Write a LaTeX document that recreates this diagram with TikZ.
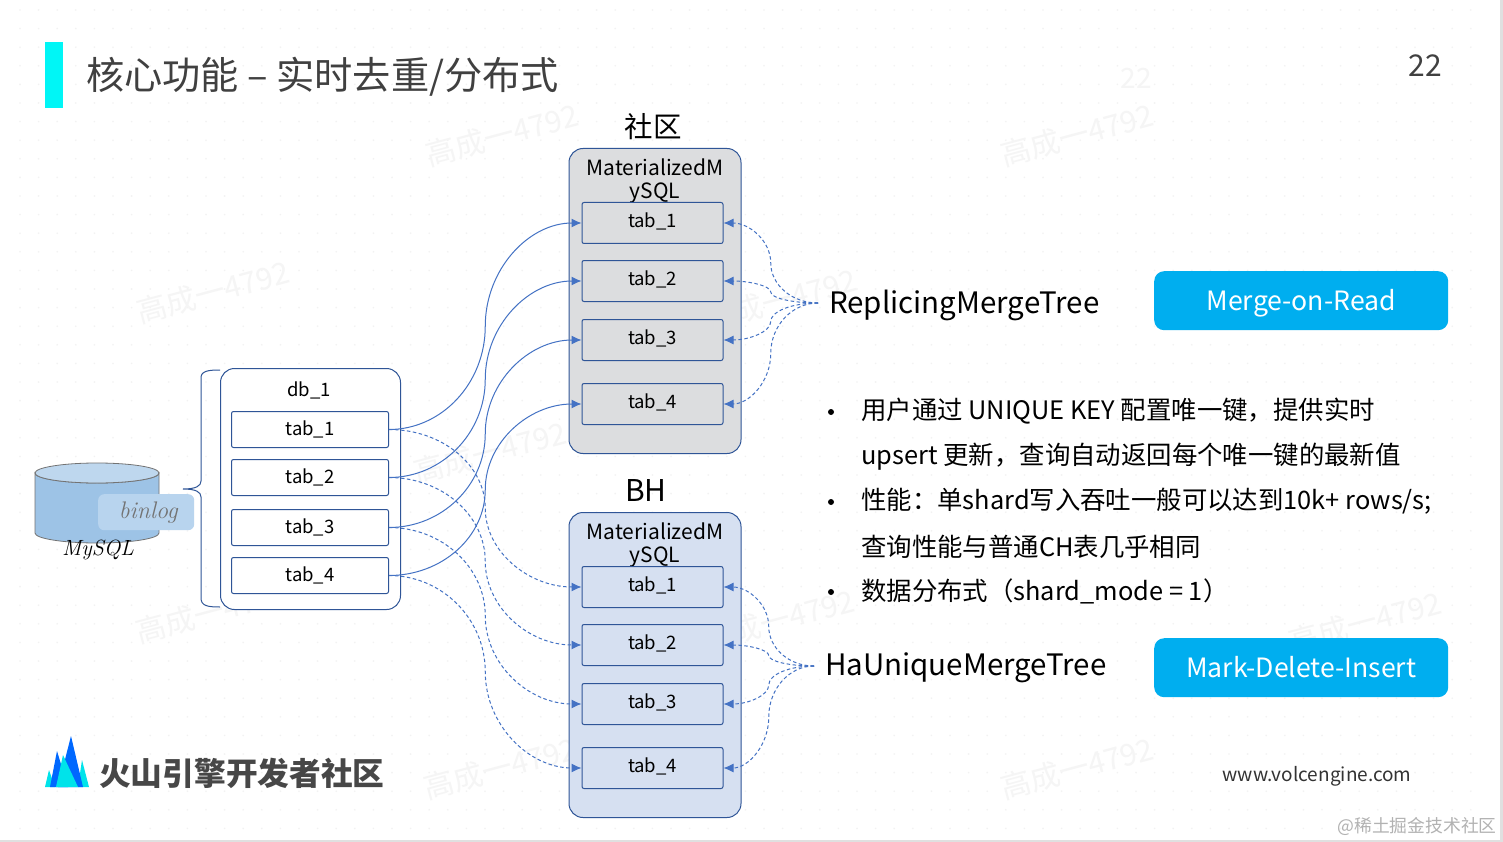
\documentclass[tikz,border=0pt]{standalone}
\usepackage{fontspec}
\setmainfont{Noto Sans CJK SC}
\newfontfamily\lmit{Latin Modern Roman}
\usetikzlibrary{arrows.meta,calc}
\definecolor{linkblue}{HTML}{4472C4}
\definecolor{boxedge}{HTML}{2F5597}
\definecolor{cyanbtn}{HTML}{00AEEF}
\definecolor{barcyan}{HTML}{00F6F6}
\definecolor{logoblue}{HTML}{0068FF}
\definecolor{logocyan}{HTML}{00E3EA}
\tikzset{
  x=1pt,y=-1pt,
  txt/.style={inner sep=0pt,text=black,font=\fontsize{18.5}{24}\selectfont},
  outerbox/.style={draw=boxedge,line width=1pt,rounded corners=14pt,anchor=north west,inner sep=0pt},
  tabbox/.style={draw=boxedge,line width=1pt,rounded corners=2pt,anchor=north west,inner sep=0pt,font=\fontsize{18.5}{24}\selectfont},
  btn/.style={fill=cyanbtn,rounded corners=10pt,anchor=north west,inner sep=0pt,minimum width=294pt,minimum height=59pt,text=white,text height=19pt,text depth=0pt,font=\fontsize{26.6}{32}\selectfont},
  bigtxt/.style={inner sep=0pt,anchor=west,text=black,font=\fontsize{25.4}{30}\selectfont},
  lbltxt/.style={inner sep=0pt,anchor=west,text=black,font=\fontsize{29.5}{34}\selectfont},
  solidlink/.style={draw=linkblue,line width=1pt,-{Latex[length=10pt,width=9pt]}},
  dashlink/.style={draw=linkblue,line width=1pt,dash pattern=on 3.5pt off 2.5pt,-{Latex[length=10pt,width=9pt]}},
  wm/.style={text=black!4,rotate=15,inner sep=0pt,font=\fontsize{30}{34}\selectfont},
}
\newcommand{\scurve}[3]{%
  \coordinate (sa) at (#2);\coordinate (sb) at (#3);
  \coordinate (sm) at ($(sa)!.5!(sb)$);
  \draw[#1] (sa) .. controls ($(sa)!.55!(sa -| sm)$) and ($(sm)!.55!(sa -| sm)$) .. (sm)
     .. controls ($(sm)!.55!(sb -| sm)$) and ($(sb)!.55!(sb -| sm)$) .. (sb);}
\begin{document}
\begin{tikzpicture}
\useasboundingbox (0,0) rectangle (1503,842);
\fill[white] (0,0) rectangle (1503,842);
% dotted slide background
\foreach \i in {0,...,78}{\foreach \j in {0,...,44}{
  \fill[black!5] ({20+18.6*\i},{10+18.6*\j}) circle (.9);}}
% watermarks
\node[wm] (w1) at (502,135) {高成一4792};
\node[wm] (w2) at (1077,135) {高成一4792};
\node[wm] (w3) at (213,292) {高成一4792};
\node[wm] (w4) at (780,300) {高成一4792};
\node[wm] (w5) at (490,452) {高成一4792};
\node[wm] (w6) at (212,612) {高成一4792};
\node[wm] (w7) at (778,620) {高成一4792};
\node[wm] (w8) at (1365,622) {高成一4792};
\node[wm] (w9) at (500,768) {高成一4792};
\node[wm] (w10) at (1077,768) {高成一4792};
\node[text=black!4,inner sep=0pt,font=\fontsize{28}{32}\selectfont] (w11) at (1136,78) {22};
% frame edges
\fill[black!12] (1500,0) rectangle (1503,842);
\fill[black!12] (0,840) rectangle (1503,842);
% title
\fill[barcyan] (45,42) rectangle (63,108);
\node[inner sep=0pt,anchor=west,text=black!75,font=\fontsize{38.2}{44}\selectfont] (title) at (86,77) {核心功能 – 实时去重/分布式};
\node[inner sep=0pt,text=black!75,font=\fontsize{30}{34}\selectfont] (page) at (1425,66) {22};
% MySQL cylinder
\path[fill={rgb,255:red,157;green,195;blue,230},draw=black!55,line width=.8pt]
  (35,473) -- (35,533) arc[start angle=180,end angle=360,x radius=62,y radius=-10] -- (159,473) arc[start angle=0,end angle=180,x radius=62,y radius=10] -- cycle;
\path[fill={rgb,255:red,190;green,215;blue,238},draw=black!55,line width=.8pt] (97,473) ellipse[x radius=62,y radius=10];
\node[fill={rgb,255:red,184;green,212;blue,238},rounded corners=6pt,anchor=north west,inner sep=0pt,minimum width=96pt,minimum height=36pt,text=black!55,font=\lmit\itshape\fontsize{24}{28}\selectfont] (binlog) at (98,494) {\hspace*{4pt}binlog};
\node[inner sep=0pt,text=black,font=\lmit\itshape\fontsize{22}{26}\selectfont] (mysql) at (98,550) {MySQL};
% brace
\draw[boxedge,line width=1pt] (220,370) .. controls (208,370) and (201,371) .. (201,378) -- (201,481) .. controls (201,486) and (196,489) .. (183,489)
  .. controls (196,489) and (201,492) .. (201,497) -- (201,598) .. controls (201,606) and (208,607) .. (220,607);
% db box
\node[outerbox,fill=white,minimum width=180pt,minimum height=241pt] (db) at (220,368) {};
\node[txt] (dbl) at (309,390) {db\_1};
\foreach \n/\y in {1/411,2/459,3/509,4/557}{
  \node[tabbox,fill=white,minimum width=157pt,minimum height=36pt] (d\n) at (231,\y) {tab\_\n};}
% community box
\node[inner sep=0pt,text=black,font=\fontsize{28.5}{34}\selectfont] (c) at (653,127) {社区};
\node[outerbox,fill={rgb,255:red,220;green,221;blue,223},minimum width=172pt,minimum height=305pt] (cb) at (568.5,148) {};
\node[txt,align=center,font=\fontsize{21}{23.5}\selectfont] (cl) at (655,181) {MaterializedM\\ySQL};
\foreach \n/\y in {1/202,2/260,3/319,4/383}{
  \node[tabbox,fill={rgb,255:red,220;green,221;blue,223},minimum width=141pt,minimum height=41pt] (c\n) at (581.5,\y) {\raisebox{6pt}{tab\_\n}};}
% BH box
\node[inner sep=0pt,text=black,font=\fontsize{30}{34}\selectfont] (bhl) at (646,491) {BH};
\node[outerbox,fill={rgb,255:red,214;green,224;blue,241},minimum width=172pt,minimum height=305pt] (bb) at (568.5,512) {};
\node[txt,align=center,font=\fontsize{21}{23.5}\selectfont] (bl) at (655,545) {MaterializedM\\ySQL};
\foreach \n/\y in {1/566,2/624,3/683,4/747}{
  \node[tabbox,fill={rgb,255:red,214;green,224;blue,241},minimum width=141pt,minimum height=41pt] (b\n) at (581.5,\y) {\raisebox{6pt}{tab\_\n}};}
% labels
\node[lbltxt] (rmt) at (829,305) {ReplicingMergeTree};
\node[lbltxt] (hmt) at (825,668) {HaUniqueMergeTree};
\coordinate (rp) at (818,303);
\coordinate (hp) at (814,666);
% links
\foreach \n in {1,2,3,4}{
  \scurve{solidlink}{d\n.east}{c\n.west}
  \scurve{dashlink}{d\n.east}{b\n.west}
  \scurve{dashlink}{rp}{c\n.east}
  \scurve{dashlink}{hp}{b\n.east}
}
% buttons
\node[btn] (mor) at (1154,271) {Merge-on-Read};
\node[btn] (mdi) at (1154,638) {Mark-Delete-Insert};
\fill[black] (831,412) circle (3);
\fill[black] (831,502) circle (3);
\fill[black] (831,592) circle (3);
% bullets
\node[bigtxt] (t1) at (861,411.5) {用户通过 UNIQUE KEY 配置唯一键，提供实时};
\node[bigtxt] (t2) at (861,456.5) {upsert 更新，查询自动返回每个唯一键的最新值};
\node[bigtxt] (t3) at (861,501.5) {性能：单shard写入吞吐一般可以达到10k+ rows/s;};
\node[bigtxt] (t4) at (861,546.5) {查询性能与普通CH表几乎相同};
\node[bigtxt] (t5) at (861,591.5) {数据分布式（shard\_mode = 1）};
% logo
\fill[logocyan] (45,787) -- (49,770) -- (55,787) -- cycle;
\fill[logocyan] (78,787) -- (82,760) -- (89,787) -- cycle;
\fill[logoblue] (50,787) -- (57,751) -- (68,787) -- cycle;
\fill[logoblue] (58,787) -- (71,736) -- (83,787) -- cycle;
\fill[logocyan] (56,787) -- (63,755) -- (78,787) -- cycle;
\node[inner sep=0pt,anchor=west,text=black!72,font=\bfseries\fontsize{31.7}{36}\selectfont] (brand) at (99,773) {火山引擎开发者社区};
\node[inner sep=0pt,text=black!80,font=\fontsize{19}{24}\selectfont] (web) at (1317,776) {www.volcengine.com};
\node[inner sep=0pt,text=black!30,font=\fontsize{17.8}{22}\selectfont] (jj) at (1417,826) {@稀土掘金技术社区};
\end{tikzpicture}
\end{document}
